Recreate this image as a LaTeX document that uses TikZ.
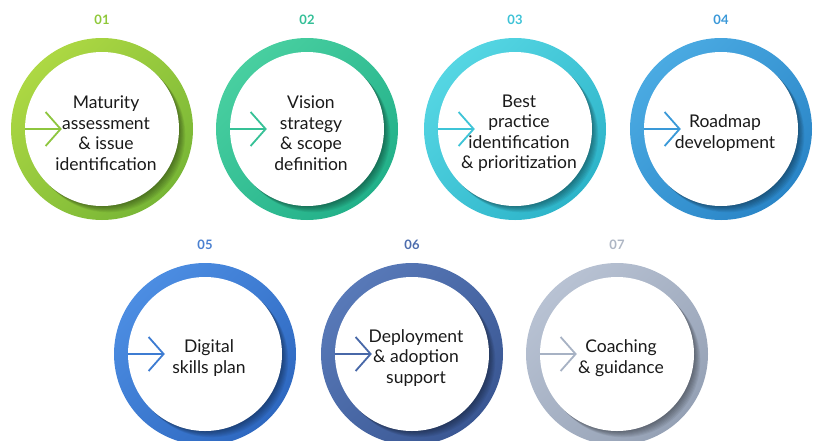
\documentclass[tikz,border=0pt]{standalone}
\usepackage{fontspec}
\setmainfont{Lato}
\usetikzlibrary{arrows.meta,calc}
\definecolor{aL}{HTML}{ADD843}\definecolor{aD}{HTML}{78B636}\definecolor{aM}{HTML}{8EC63F}\definecolor{aN}{HTML}{8FC83A}
\definecolor{bL}{HTML}{48CFA0}\definecolor{bD}{HTML}{22B089}\definecolor{bM}{HTML}{36C196}\definecolor{bN}{HTML}{33BF97}
\definecolor{cL}{HTML}{55D6E3}\definecolor{cD}{HTML}{2DB4C9}\definecolor{cM}{HTML}{3EC4D7}\definecolor{cN}{HTML}{3DC2D6}
\definecolor{dL}{HTML}{4AAAE2}\definecolor{dD}{HTML}{2A85C7}\definecolor{dM}{HTML}{3A99D8}\definecolor{dN}{HTML}{3A98D8}
\definecolor{eL}{HTML}{4C8DE2}\definecolor{eD}{HTML}{2E68C0}\definecolor{eM}{HTML}{3D7CD2}\definecolor{eN}{HTML}{4A80D0}
\definecolor{fL}{HTML}{5879B8}\definecolor{fD}{HTML}{3A5793}\definecolor{fM}{HTML}{4868A8}\definecolor{fN}{HTML}{4D6DAD}
\definecolor{gL}{HTML}{B8C2D3}\definecolor{gD}{HTML}{95A1B5}\definecolor{gM}{HTML}{A7B2C4}\definecolor{gN}{HTML}{AEB6C4}
\definecolor{txt}{HTML}{1A1A1A}
\tikzset{
  ring/.style={circle, minimum size=182pt, inner sep=0pt},
  disc/.style={circle, fill=white, minimum size=154pt, inner sep=0pt},
  steptext/.style={align=center, text=txt, font=\fontsize{17.5}{20.5}\selectfont, inner sep=0pt},
  numtext/.style={font=\fontsize{13}{15}\selectfont\bfseries, inner sep=0pt},
  arrowline/.style={line width=1.8pt, -{Straight Barb[length=15pt, width=34pt, line width=1.8pt]}}
}
\newcommand{\stepitem}[5]{%
  \node[ring, top color=#3L, bottom color=#3D, shading angle=45] (r#1) at (#2) {};
  \begin{scope}
    \clip (r#1.center) circle (91pt);
    \foreach \k in {1,...,7} {
      \fill[black, opacity=0.06] ($(r#1.center)+(0.9*\k,-0.9*\k)$) circle (77pt);
    }
  \end{scope}
  \node[disc] (w#1) at (r#1.center) {};
  \coordinate (a#1) at ($(w#1.west)+(37,0)$);
  \draw[arrowline, draw=#3M] (w#1.west) -- (a#1);
  \node[steptext] (t#1) at ($(r#1.center)+(4,-4)$) {#5};
  \node[numtext, text=#3N] (n#1) at ($(r#1.center)+(0,109)$) {#4};
}
\begin{document}
\begin{tikzpicture}[x=1pt, y=1pt]
\useasboundingbox (0,0) rectangle (817,-440);
\clip (0,0) rectangle (817,-440);
\stepitem{1}{102,-129}{a}{01}{Maturity\\assessment\\\& issue\\identification}
\stepitem{2}{307,-129}{b}{02}{Vision\\strategy\\\& scope\\definition}
\stepitem{3}{515,-129}{c}{03}{Best\\practice\\identification\\\& prioritization}
\stepitem{4}{721,-129}{d}{04}{Roadmap\\development}
\stepitem{5}{205,-354}{e}{05}{Digital\\skills plan}
\stepitem{6}{412,-354}{f}{06}{Deployment\\\& adoption\\support}
\stepitem{7}{617,-354}{g}{07}{Coaching\\\& guidance}
\end{tikzpicture}
\end{document}
